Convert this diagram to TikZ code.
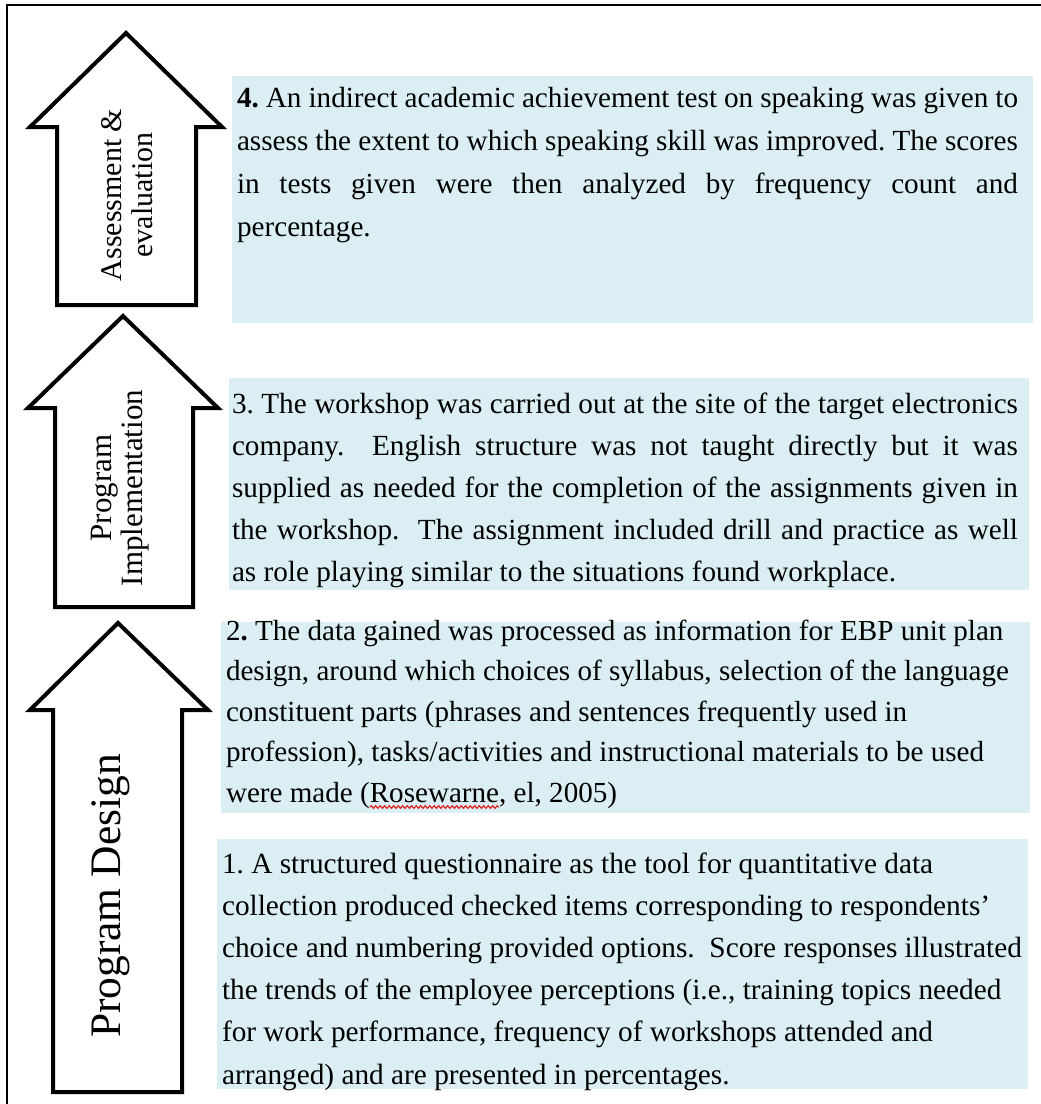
\documentclass[tikz,border=0pt]{standalone}
\usepackage{fontspec}
\setmainfont{Liberation Serif}
\usetikzlibrary{decorations.pathmorphing}
\definecolor{boxblue}{HTML}{DAEEF3}
\definecolor{squiggle}{HTML}{E02020}
\newlength\rwA
\newlength\rwB
\newcommand\boxtwofont{\fontsize{29.1}{40.5}\selectfont}
\newcommand\jl[2]{\makebox[#1][s]{#2}}
\begin{document}
\frenchspacing
\settowidth{\rwA}{\boxtwofont were made (}%
\settowidth{\rwB}{\boxtwofont Rosewarne}%
\begin{tikzpicture}[x=1pt,y=-1pt,
  blockarrow/.style={draw=black, line width=4pt, fill=white, line join=miter, miter limit=10},
  infobox/.style={fill=boxblue, draw=none, inner sep=0pt, outer sep=0pt, anchor=north west},
  bodytext/.style={anchor=base west, inner sep=0pt, outer sep=0pt, align=flush left, text width=900pt},
  arrowlabel/.style={rotate=90, align=center, inner sep=0pt},
  frameline/.style={draw=black, line width=2pt}]
\useasboundingbox[fill=white] (0,0) rectangle (1041,1104);
% outer frame (top and left)
\draw[frameline] (7,1104) -- (7,5) -- (1041,5);
% block arrows
\draw[blockarrow] (57,305) -- (57,127) -- (30,127) -- (126,33) -- (222,127) -- (196,127) -- (196,305) -- cycle;
\draw[blockarrow] (55,607) -- (55,408) -- (28,408) -- (123,316) -- (218,408) -- (193,408) -- (193,607) -- cycle;
\draw[blockarrow] (53,1092) -- (53,710) -- (30,710) -- (118,623) -- (208,710) -- (182,710) -- (182,1092) -- cycle;
% arrow labels
\node[arrowlabel, font=\fontsize{30}{31}\selectfont] (la) at (127,195) {Assessment \&\\evaluation};
\node[arrowlabel, font=\fontsize{31}{31}\selectfont] (lb) at (120,488) {Program\\Implementation};
\node[arrowlabel, font=\fontsize{43.5}{44}\selectfont] (lc) at (111,896) {Program Design};
% shaded boxes
\node[infobox, minimum width=801pt, minimum height=247pt] (b4) at (232,76) {};
\node[infobox, minimum width=800pt, minimum height=212pt] (b3) at (229,378) {};
\node[infobox, minimum width=809pt, minimum height=191pt] (b2) at (221,622) {};
\node[infobox, minimum width=811pt, minimum height=250pt] (b1) at (217,839) {};
% texts
\node[bodytext, font=\fontsize{29.2}{43}\selectfont] (t4) at (237,107) {%
\jl{781pt}{\textbf{4.} An indirect academic achievement test on speaking was given to}\\
\jl{781pt}{assess the extent to which speaking skill was improved. The scores}\\
\jl{781pt}{in tests given were then analyzed by frequency count and}\\
percentage.};
\node[bodytext, font=\fontsize{29.2}{42}\selectfont] (t3) at (232,413) {%
\jl{786pt}{3. The workshop was carried out at the site of the target electronics}\\
\jl{786pt}{company.\ \ English structure was not taught directly but it was}\\
\jl{786pt}{supplied as needed for the completion of the assignments given in}\\
\jl{786pt}{the workshop.\ \ The assignment included drill and practice as well}\\
as role playing similar to the situations found workplace.};
\node[bodytext, font=\boxtwofont] (t2) at (226,640) {%
2\textbf{.} The data gained was processed as information for EBP unit plan\\
design, around which choices of syllabus, selection of the language\\
constituent parts (phrases and sentences frequently used in\\
profession), tasks/activities and instructional materials to be used\\
were made (Rosewarne, el, 2005)};
\node[bodytext, font=\fontsize{29.3}{42.2}\selectfont] (t1) at (222,873) {%
1. A structured questionnaire as the tool for quantitative data\\
collection produced checked items corresponding to respondents’\\
choice and numbering provided options.\ \ Score responses illustrated\\
the trends of the employee perceptions (i.e., training topics needed\\
for work performance, frequency of workshops attended and\\
arranged) and are presented in percentages.};
% spell-check squiggle under "Rosewarne"
\coordinate (sqa) at ({226pt+\rwA},{-807pt});
\coordinate (sqb) at ({226pt+\rwA+\rwB},{-807pt});
\draw[squiggle, line width=1.2pt, decorate, decoration={snake, amplitude=1.3pt, segment length=4.5pt}] (sqa) -- (sqb);
\end{tikzpicture}
\end{document}
